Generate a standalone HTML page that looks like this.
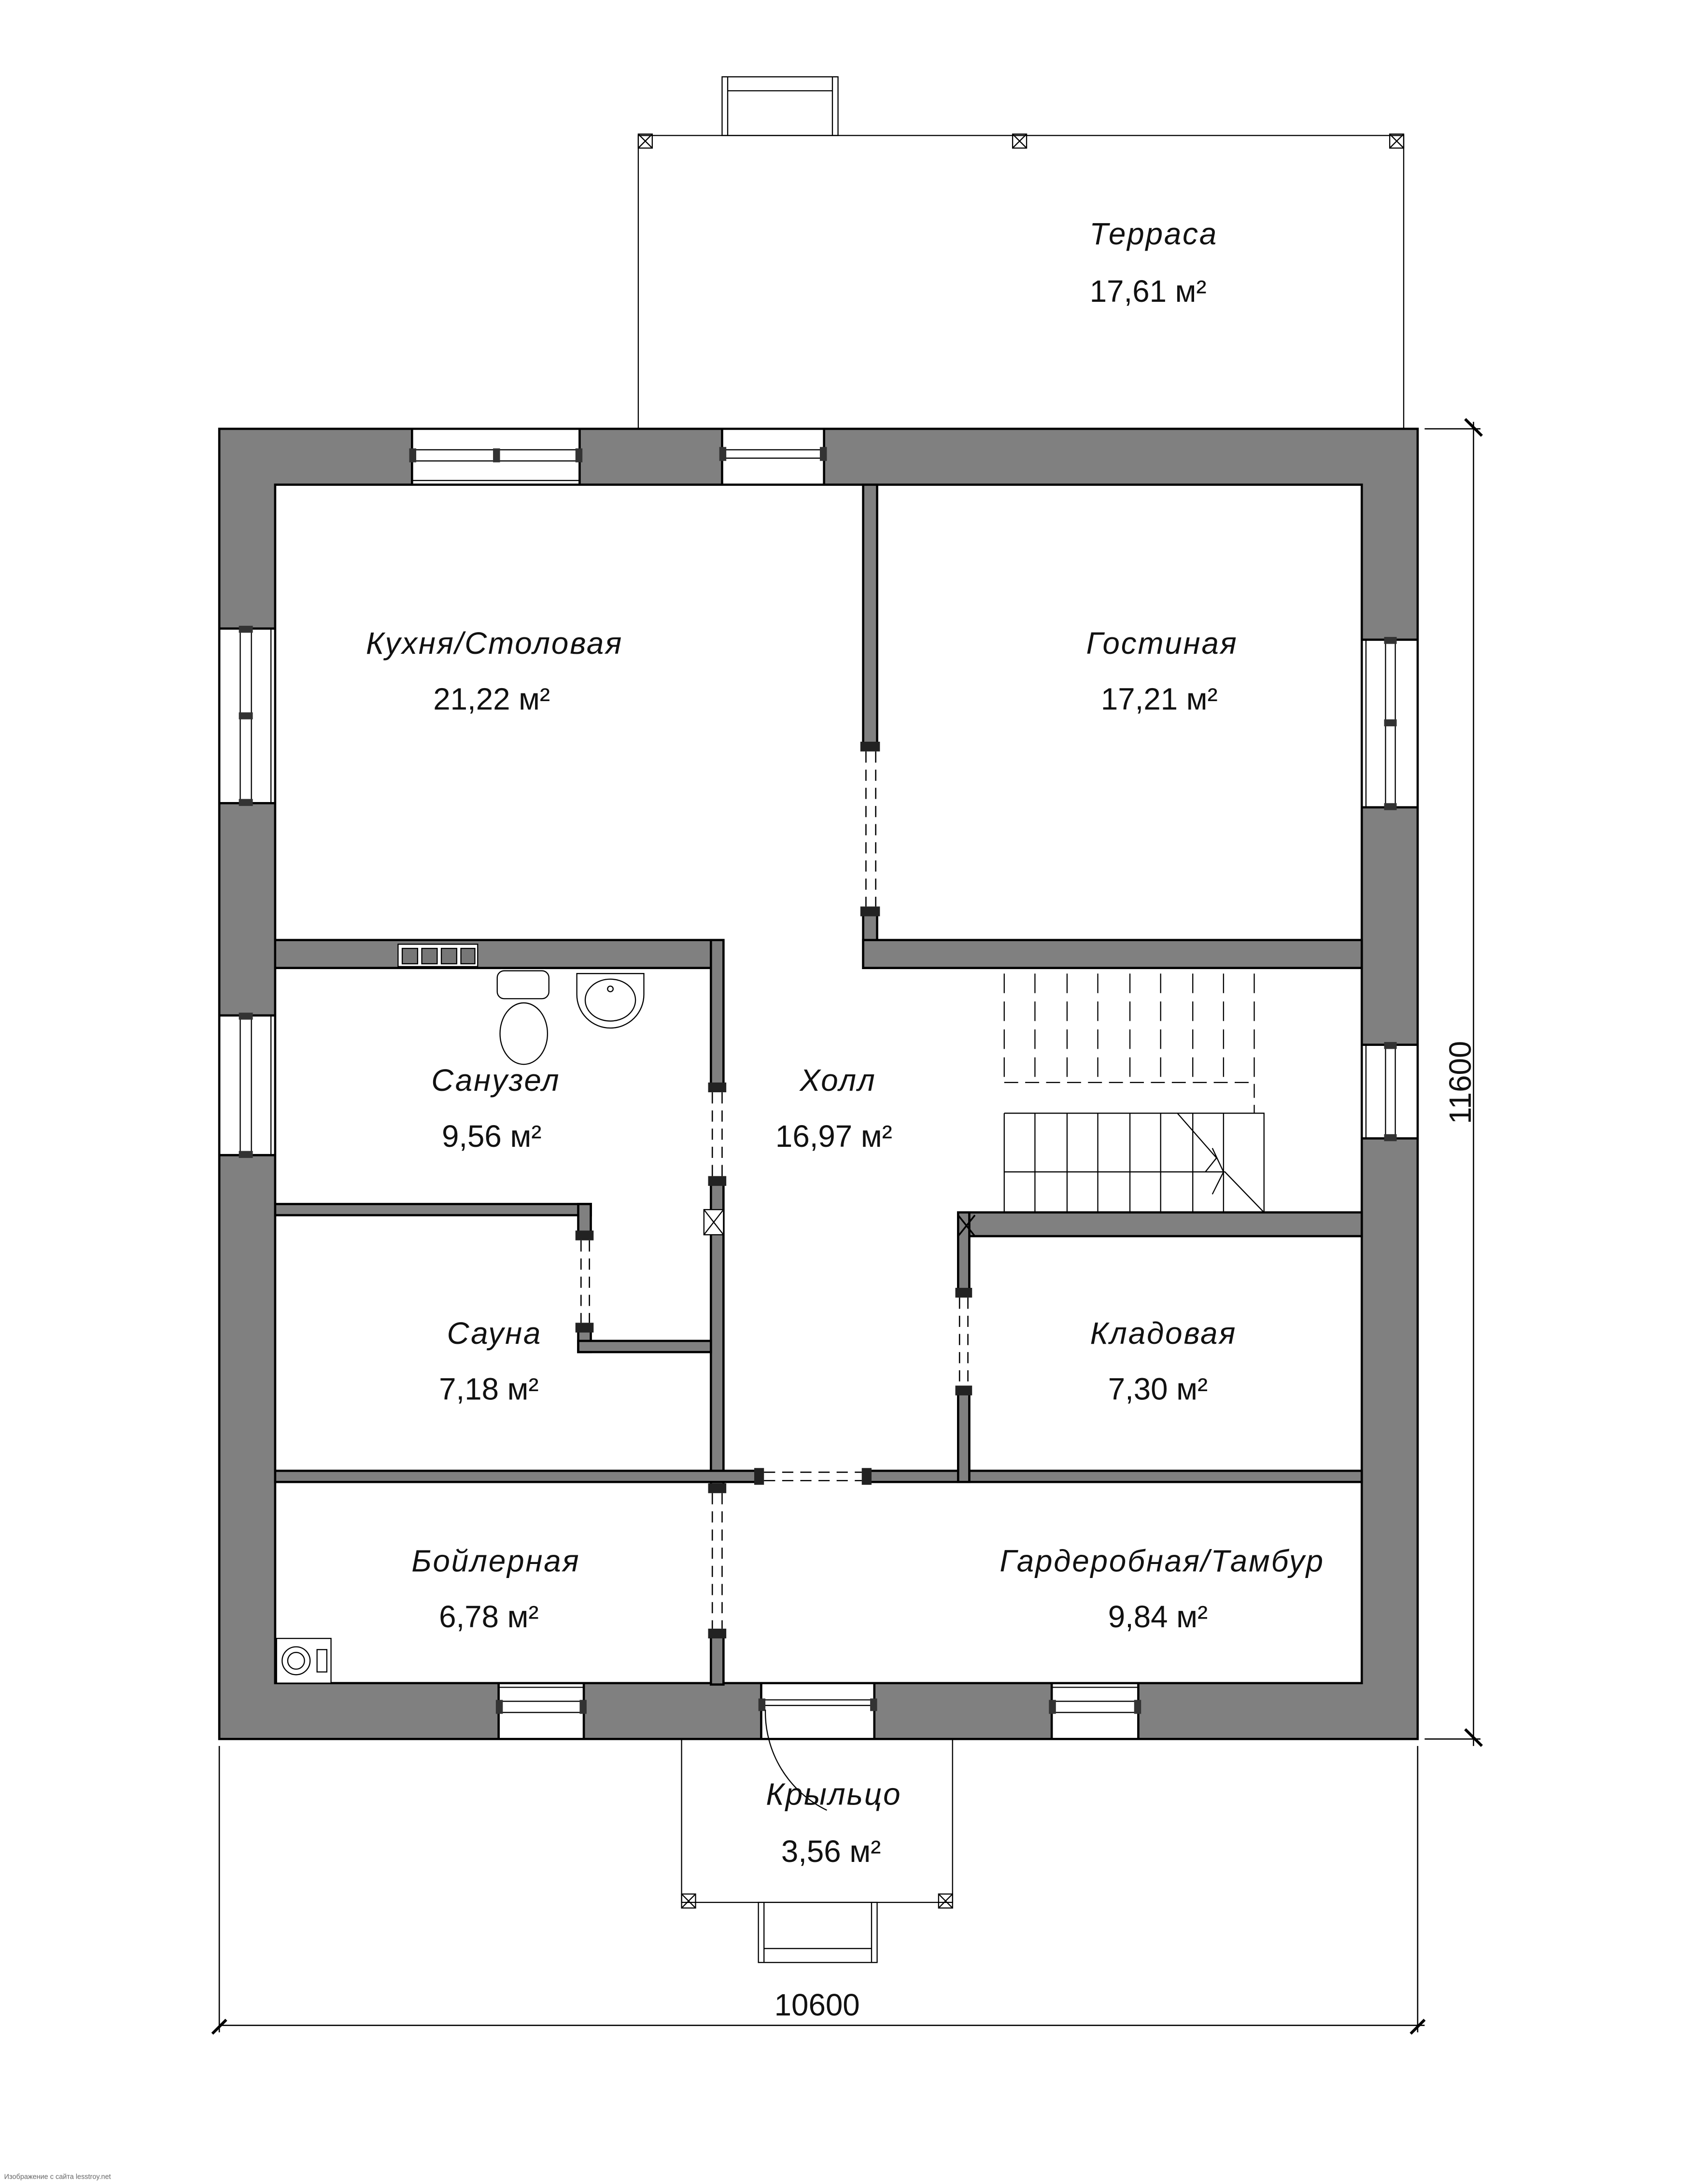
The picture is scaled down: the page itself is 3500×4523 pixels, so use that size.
<!DOCTYPE html>
<html><head><meta charset="utf-8"><style>
html,body{margin:0;padding:0;background:#fff}
svg{display:block}
text{font-family:"Liberation Sans","DejaVu Sans",sans-serif;fill:#111}
.l{font-style:italic;font-size:22px;letter-spacing:1px}
.a{font-size:22px}
.w{fill:#808080;stroke:#000;stroke-width:1.6}
.t{fill:none;stroke:#000;stroke-width:0.8}
.d{fill:none;stroke:#000;stroke-width:0.9;stroke-dasharray:8,5}
</style></head><body>
<svg width="3500" height="4523" viewBox="0 0 1210 1563.6" preserveAspectRatio="none" xmlns="http://www.w3.org/2000/svg">
<rect x="0" y="0" width="1210" height="1563.6" fill="#fff"/>
<!-- terrace -->
<rect x="457" y="97" width="548" height="210" class="t" stroke="#444"/>
<rect x="517" y="55" width="83" height="42" class="t"/>
<line x1="521" y1="65" x2="596" y2="65" class="t"/>
<line x1="521" y1="55" x2="521" y2="97" class="t"/><line x1="596" y1="55" x2="596" y2="97" class="t"/>
<g class="t">
<rect x="457" y="96" width="10" height="10"/><path d="M457 96l10 10M467 96l-10 10"/>
<rect x="725" y="96" width="10" height="10"/><path d="M725 96l10 10M735 96l-10 10"/>
<rect x="995" y="96" width="10" height="10"/><path d="M995 96l10 10M1005 96l-10 10"/>
</g>
<!-- porch -->
<rect x="488" y="1245" width="194" height="117" class="t"/>
<rect x="543" y="1362" width="85" height="43" class="t"/>
<line x1="547" y1="1362" x2="547" y2="1405" class="t"/><line x1="624" y1="1362" x2="624" y2="1405" class="t"/>
<line x1="547" y1="1395" x2="624" y2="1395" class="t"/>
<g class="t">
<rect x="488" y="1356" width="10" height="10"/><path d="M488 1356l10 10M498 1356l-10 10"/>
<rect x="672" y="1356" width="10" height="10"/><path d="M672 1356l10 10M682 1356l-10 10"/>
</g>
<!-- outer walls -->
<rect x="157" y="307" width="858" height="938" class="w"/>
<rect x="197" y="347" width="778" height="858" fill="#fff" stroke="#000" stroke-width="1.6"/>
<!-- window/door openings -->
<g fill="#fff" stroke="#000" stroke-width="0.8">
<rect x="295" y="307.8" width="120" height="38.4" stroke="none"/>
<rect x="517" y="307.8" width="73" height="38.4" stroke="none"/>
<rect x="157.8" y="450" width="38.4" height="125" stroke="none"/>
<rect x="157.8" y="727" width="38.4" height="100" stroke="none"/>
<rect x="975.8" y="458" width="38.4" height="120" stroke="none"/>
<rect x="975.8" y="748" width="38.4" height="67" stroke="none"/>
<rect x="357" y="1205.8" width="61" height="38.4" stroke="none"/>
<rect x="545" y="1205.8" width="81" height="38.4" stroke="none"/>
<rect x="753" y="1205.8" width="62" height="38.4" stroke="none"/>
</g>
<g stroke="#000" stroke-width="1.6" fill="none">
<path d="M295 307V347M415 307V347M517 307V347M590 307V347"/>
<path d="M157 450H197M157 575H197M157 727H197M157 827H197"/>
<path d="M975 458H1015M975 578H1015M975 748H1015M975 815H1015"/>
<path d="M357 1205V1245M418 1205V1245M545 1205V1245M626 1205V1245M753 1205V1245M815 1205V1245"/>
</g>
<g stroke="#000" stroke-width="0.8" fill="none">
<path d="M295 322H415M295 330H415M295 344H415M517 322H590M517 328H590"/>
<path d="M172 450V575M180 450V575M194 450V575M172 727V827M180 727V827M194 727V827"/>
<path d="M992 458V578M999 458V578M978 458V578M992 748V815M999 748V815M978 748V815"/>
<path d="M357 1218H418M357 1226H418M357 1208H418M753 1218H815M753 1226H815M753 1208H815"/>
<path d="M545 1221H626M545 1217H626"/>
</g>
<g fill="#333">
<rect x="293" y="321" width="5" height="10"/><rect x="353" y="321" width="5" height="10"/><rect x="412" y="321" width="5" height="10"/>
<rect x="515" y="320" width="5" height="10"/><rect x="587" y="320" width="5" height="10"/>
<rect x="171" y="448" width="10" height="5"/><rect x="171" y="510" width="10" height="5"/><rect x="171" y="572" width="10" height="5"/>
<rect x="171" y="725" width="10" height="5"/><rect x="171" y="824" width="10" height="5"/>
<rect x="991" y="456" width="9" height="5"/><rect x="991" y="515" width="9" height="5"/><rect x="991" y="575" width="9" height="5"/>
<rect x="991" y="746" width="9" height="5"/><rect x="991" y="812" width="9" height="5"/>
<rect x="355" y="1217" width="5" height="10"/><rect x="415" y="1217" width="5" height="10"/>
<rect x="751" y="1217" width="5" height="10"/><rect x="812" y="1217" width="5" height="10"/>
<rect x="543" y="1216" width="5" height="9"/><rect x="623" y="1216" width="5" height="9"/>
</g>
<!-- door arc -->
<path d="M548 1224 A78 78 0 0 0 592 1296" class="t"/>
<!-- inner walls -->
<rect x="618" y="347" width="10" height="188" class="w"/>
<rect x="618" y="652" width="10" height="41" class="w"/>
<rect x="618" y="673" width="357" height="20" class="w"/>
<rect x="197" y="673" width="320" height="20" class="w"/>
<rect x="509" y="673" width="9" height="107" class="w"/>
<rect x="509" y="845" width="9" height="220" class="w"/>
<rect x="509" y="1170" width="9" height="36" class="w"/>
<rect x="197" y="1053" width="348" height="8" class="w"/>
<rect x="620" y="1053" width="355" height="8" class="w"/>
<rect x="197" y="862" width="226" height="8" class="w"/>
<rect x="414" y="862" width="9" height="23" class="w"/>
<rect x="414" y="950" width="9" height="18" class="w"/>
<rect x="414" y="960" width="95" height="8" class="w"/>
<rect x="686" y="868" width="289" height="17" class="w"/>
<rect x="686" y="868" width="8" height="57" class="w"/>
<rect x="686" y="995" width="8" height="66" class="w"/>
<rect x="197.8" y="674" width="2" height="18" fill="#808080"/>
<!-- door caps -->
<g fill="#222">
<rect x="616" y="531" width="14" height="7"/><rect x="616" y="649" width="14" height="7"/>
<rect x="507" y="775" width="13" height="7"/><rect x="507" y="842" width="13" height="7"/>
<rect x="507" y="1062" width="13" height="7"/><rect x="507" y="1166" width="13" height="7"/>
<rect x="412" y="881" width="13" height="7"/><rect x="412" y="947" width="13" height="7"/>
<rect x="684" y="922" width="12" height="7"/><rect x="684" y="992" width="12" height="7"/>
<rect x="540" y="1051" width="7" height="12"/><rect x="617" y="1051" width="7" height="12"/>
</g>
<g class="d">
<path d="M620 538V649M627 538V649"/>
<path d="M510 782V842M517 782V842"/>
<path d="M510 1069V1166M517 1069V1166"/>
<path d="M416 888V947M422 888V947"/>
<path d="M687 929V992M693 929V992"/>
<path d="M547 1054H617M547 1060H617"/>
</g>
<!-- X boxes -->
<g class="t" stroke-width="1">
<rect x="504" y="866" width="14" height="18" fill="#fff"/><path d="M504 866l14 18M518 866l-14 18"/>
<path d="M686 870l12 15M698 870l-12 15" stroke-width="1.2"/>
</g>
<!-- stairs -->
<g class="t">
<path d="M719 697V775M741 697V775M764 697V775M786 697V775M809 697V775M831 697V775M854 697V775M876 697V775M898 697V775" stroke-dasharray="14,6"/>
<path d="M719 775H898V797" stroke-dasharray="10,5"/>
<path d="M719 797H905V868M719 797V868M741 797V868M764 797V868M786 797V868M809 797V868M831 797V868M854 797V868M876 797V868"/>
<path d="M719 839H876M868 822l8 17l-8 16M843 797l28 32l-8 10l14 0l28 29"/>
</g>
<!-- fixtures -->
<g class="t" stroke-width="1">
<rect x="285" y="676" width="57" height="16" fill="#fff"/>
<rect x="288" y="679" width="11" height="11" fill="#777"/><rect x="302" y="679" width="11" height="11" fill="#777"/><rect x="316" y="679" width="11" height="11" fill="#777"/><rect x="330" y="679" width="10" height="11" fill="#777"/>
<rect x="356" y="695" width="37" height="20" rx="5" fill="#fff"/>
<ellipse cx="375" cy="740" rx="17" ry="22" fill="#fff"/>
<path d="M413 697H461V712A24 24 0 0 1 413 712Z" fill="#fff"/>
<ellipse cx="437" cy="716" rx="18" ry="15"/>
<circle cx="437" cy="708" r="2"/>
<rect x="198" y="1173" width="39" height="32" fill="#fff"/>
<circle cx="212" cy="1189" r="10"/><circle cx="212" cy="1189" r="6"/><rect x="227" y="1181" width="7" height="16"/>
</g>
<!-- labels -->
<g text-anchor="middle">
<text class="l" x="826" y="175">Терраса</text><text class="a" x="822" y="216">17,61 м²</text>
<text class="l" x="354" y="468">Кухня/Столовая</text><text class="a" x="352" y="508">21,22 м²</text>
<text class="l" x="832" y="468">Гостиная</text><text class="a" x="830" y="508">17,21 м²</text>
<text class="l" x="355" y="781">Санузел</text><text class="a" x="352" y="821">9,56 м²</text>
<text class="l" x="600" y="781">Холл</text><text class="a" x="597" y="821">16,97 м²</text>
<text class="l" x="354" y="962">Сауна</text><text class="a" x="350" y="1002">7,18 м²</text>
<text class="l" x="833" y="962">Кладовая</text><text class="a" x="829" y="1002">7,30 м²</text>
<text class="l" x="355" y="1125">Бойлерная</text><text class="a" x="350" y="1165">6,78 м²</text>
<text class="l" x="832" y="1125">Гардеробная/Тамбур</text><text class="a" x="829" y="1165">9,84 м²</text>
<text class="l" x="597" y="1292">Крыльцо</text><text class="a" x="595" y="1333">3,56 м²</text>
<text class="a" x="585" y="1443">10600</text>
<text class="a" transform="translate(1053,775) rotate(-90)">11600</text>
</g>
<!-- dimensions -->
<g stroke="#000" stroke-width="0.9" fill="none">
<path d="M157 1250V1455M1015 1250V1455M157 1450H1020"/>
<path d="M152 1456l10 -10M1010 1456l10 -10" stroke-width="2"/>
<path d="M1020 307H1060M1020 1245H1060M1055 302V1250"/>
<path d="M1049 300l12 12M1049 1238l12 12" stroke-width="2"/>
</g>
<text x="3" y="1560" style="font-size:5px;fill:#666">Изображение с сайта lesstroy.net</text>
</svg>
</body></html>
